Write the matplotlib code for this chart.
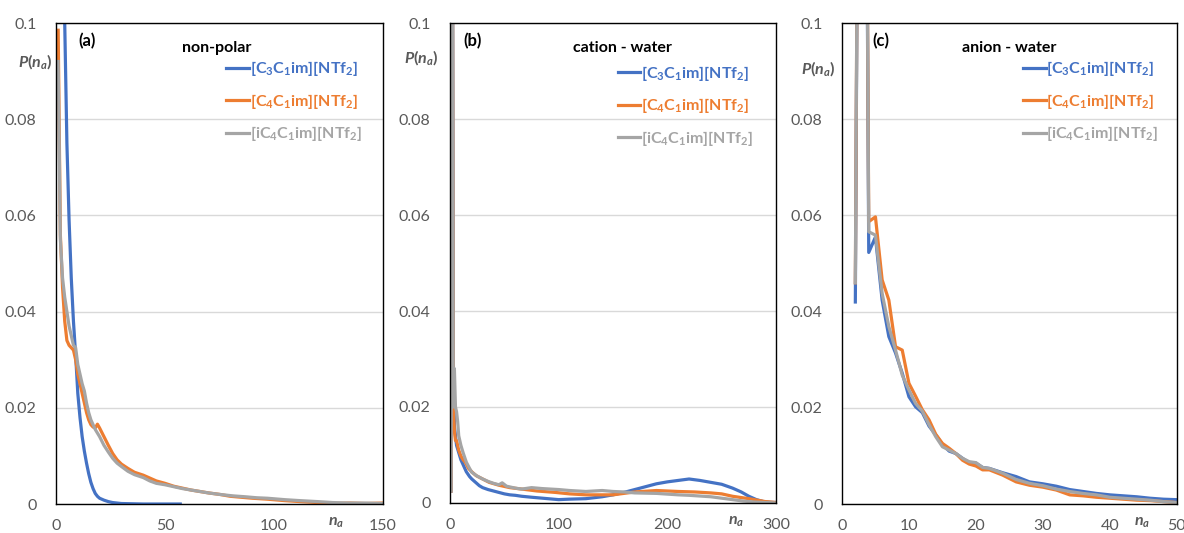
import numpy as np
import matplotlib
matplotlib.use("Agg")
import matplotlib.pyplot as plt

plt.rcParams['font.family'] = ['Lato', 'DejaVu Sans']
plt.rcParams['mathtext.fontset'] = 'custom'
plt.rcParams['mathtext.default'] = 'regular'
plt.rcParams['mathtext.it'] = 'Lato:italic:bold'

labels = ["[C$_3$C$_1$im][NTf$_2$]", "[C$_4$C$_1$im][NTf$_2$]", "[iC$_4$C$_1$im][NTf$_2$]"]
colors = ["#4472C4", "#ED7D31", "#A5A5A5"]

# (a) non-polar
a_blue_n = [1, 2, 3, 4, 5, 6, 7, 8, 9, 10, 11, 12, 13, 14, 15, 16, 17, 18, 19, 20,
            22, 24, 26, 28, 30, 35, 40, 45, 50, 57]
a_blue_p = [0.25, 0.19, 0.14, 0.10, 0.075, 0.059, 0.047, 0.038, 0.031, 0.023, 0.018,
            0.014, 0.011, 0.0085, 0.0063, 0.0045, 0.0032, 0.0022, 0.0016, 0.0012,
            0.0008, 0.0005, 0.0003, 0.0002, 0.0001, 0.00005, 0.0, 0.0, 0.0, 0.0]
a_orange_n = [1, 2, 3, 4, 5, 6, 7, 8, 9, 10, 11, 12, 13, 14, 15, 16, 17, 18, 19, 20,
              22, 24, 26, 28, 30, 33, 36, 40, 43, 46, 50, 54, 58, 62, 66, 70, 75, 80,
              85, 90, 97, 105, 112, 120, 127, 135, 142, 150]
a_orange_p = [0.0985, 0.056, 0.045, 0.038, 0.034, 0.033, 0.0325, 0.032, 0.030, 0.027,
              0.025, 0.023, 0.021, 0.019, 0.0175, 0.0165, 0.016, 0.0158, 0.0166, 0.0158,
              0.0140, 0.0122, 0.0105, 0.0092, 0.0083, 0.0074, 0.0066, 0.0060, 0.0054,
              0.0048, 0.0043, 0.0037, 0.0033, 0.0029, 0.0026, 0.0023, 0.0020, 0.0016,
              0.0014, 0.0012, 0.0010, 0.0007, 0.0005, 0.0003, 0.0001, 0.0002, 0.0001,
              0.0002]
a_gray_n = [1, 2, 3, 4, 5, 6, 7, 8, 9, 10, 11, 12, 13, 14, 15, 16, 17, 18, 20, 22, 24,
            26, 28, 30, 33, 36, 40, 43, 46, 50, 54, 58, 62, 66, 70, 75, 81, 87, 92, 97,
            105, 112, 120, 127, 135, 142, 150]
a_gray_p = [0.092, 0.055, 0.047, 0.043, 0.040, 0.037, 0.035, 0.033, 0.0325, 0.029,
            0.027, 0.025, 0.0235, 0.021, 0.019, 0.0175, 0.0165, 0.0155, 0.0140, 0.0122,
            0.0108, 0.0095, 0.0085, 0.0078, 0.0068, 0.0061, 0.0055, 0.0048, 0.0043,
            0.0040, 0.0036, 0.0032, 0.0029, 0.0026, 0.0023, 0.0020, 0.0017, 0.0015,
            0.0013, 0.0012, 0.0009, 0.0007, 0.0005, 0.0003, 0.0002, 0.0002, 0.0001]

# (b) cation - water
b_blue_n = [1, 2, 3, 4, 5, 6, 8, 10, 12, 15, 18, 20, 24, 27, 30, 35, 40, 45, 50, 55,
            60, 66, 75, 90, 100, 110, 125, 140, 150, 160, 170, 180, 190, 200, 210, 220,
            230, 240, 250, 260, 268, 275, 282, 290, 300]
b_blue_p = [0.0025, 0.15, 0.03, 0.016, 0.014, 0.012, 0.0105, 0.009, 0.008, 0.0065,
            0.0055, 0.005, 0.0042, 0.0036, 0.0032, 0.0028, 0.0025, 0.0022, 0.0019,
            0.0017, 0.0016, 0.0014, 0.0012, 0.0009, 0.0007, 0.0008, 0.0009, 0.0013,
            0.0017, 0.0022, 0.0028, 0.0034, 0.0040, 0.0044, 0.0047, 0.0050, 0.0047,
            0.0043, 0.0039, 0.0031, 0.0023, 0.0014, 0.0007, 0.0002, 0.0001]
b_orange_n = [1, 2, 3, 4, 5, 6, 8, 10, 12, 14, 17, 20, 24, 30, 36, 45, 55, 66, 80, 97,
              110, 125, 150, 170, 190, 210, 225, 240, 250, 260, 275, 285, 290, 300]
b_orange_p = [0.0025, 0.15, 0.02, 0.015, 0.013, 0.013, 0.011, 0.0098, 0.009, 0.0085,
              0.0072, 0.0065, 0.0057, 0.005, 0.0043, 0.0037, 0.0032, 0.0029, 0.0025,
              0.0022, 0.0019, 0.0017, 0.0017, 0.0023, 0.0026, 0.0024, 0.0023, 0.0021,
              0.0019, 0.0014, 0.0009, 0.0005, 0.0003, 0.0001]
b_gray_n = [1, 2, 3, 4, 5, 6, 7, 8, 10, 12, 15, 18, 20, 25, 30, 35, 40, 45, 48, 52, 60,
            66, 75, 85, 100, 110, 125, 140, 150, 160, 170, 190, 210, 220, 240, 260, 270,
            280, 290, 300]
b_gray_p = [0.0025, 0.15, 0.02, 0.028, 0.02, 0.019, 0.017, 0.014, 0.012, 0.0105,
            0.0085, 0.0072, 0.0064, 0.0056, 0.005, 0.0045, 0.0041, 0.0038, 0.0042,
            0.0035, 0.0031, 0.0029, 0.0032, 0.003, 0.0028, 0.0026, 0.0024, 0.0026,
            0.0024, 0.0023, 0.0021, 0.002, 0.0017, 0.0016, 0.0013, 0.0007, 0.0004,
            0.0002, 0.0001, 0.0]

# (c) anion - water
c_n = [2, 3, 4, 5, 6, 7, 8, 9, 10, 11, 12, 13, 14, 15, 16, 17, 18, 19, 20, 21, 22, 24,
       26, 28, 30, 32, 34, 36, 38, 40, 42, 44, 46, 48, 50]
c_blue_p = [0.042, 0.30, 0.0523, 0.0555, 0.0424, 0.0348, 0.0314, 0.0272, 0.0223, 0.0202,
            0.0190, 0.0162, 0.0144, 0.0124, 0.0110, 0.0105, 0.0095, 0.0086, 0.0085,
            0.0076, 0.0074, 0.0065, 0.0057, 0.0046, 0.0042, 0.0037, 0.0030, 0.0026,
            0.0022, 0.0019, 0.0017, 0.0015, 0.0012, 0.0010, 0.0009]
c_orange_p = [0.046, 0.30, 0.0587, 0.0597, 0.0466, 0.0424, 0.0327, 0.0320, 0.0251,
              0.0224, 0.0196, 0.0175, 0.0145, 0.0126, 0.0116, 0.0105, 0.0091, 0.0083,
              0.0079, 0.0071, 0.0071, 0.0060, 0.0046, 0.0039, 0.0035, 0.0029, 0.0019,
              0.0017, 0.0014, 0.0012, 0.0010, 0.0008, 0.0007, 0.0005, 0.0003]
c_gray_p = [0.046, 0.30, 0.0566, 0.0559, 0.0438, 0.0369, 0.0320, 0.0268, 0.0237, 0.0209,
            0.0193, 0.0165, 0.0140, 0.0119, 0.0112, 0.0105, 0.0095, 0.0088, 0.0086,
            0.0076, 0.0074, 0.0064, 0.0051, 0.0043, 0.0038, 0.0031, 0.0026, 0.0022,
            0.0019, 0.0014, 0.0012, 0.0010, 0.0008, 0.0005, 0.0003]

panels = [
    dict(tag="(a)", title="non-polar", xmax=150, xticks=[0, 50, 100, 150],
         series=[(a_blue_n, a_blue_p), (a_orange_n, a_orange_p), (a_gray_n, a_gray_p)],
         rect=[0.0473, 0.0544, 0.2762, 0.9024], title_x=0.49, tag_x=0.067,
         py=(-0.064, 0.919), nx=0.856, leg=(0.935, 0.925)),
    dict(tag="(b)", title="cation - water", xmax=300, xticks=[0, 100, 200, 300],
         series=[(b_blue_n, b_blue_p), (b_orange_n, b_orange_p), (b_gray_n, b_gray_p)],
         rect=[0.3801, 0.0563, 0.2753, 0.9005], title_x=0.53, tag_x=0.04,
         py=(-0.089, 0.927), nx=0.877, leg=(0.93, 0.915)),
    dict(tag="(c)", title="anion - water", xmax=50, xticks=[0, 10, 20, 30, 40, 50],
         series=[(c_n, c_blue_p), (c_n, c_orange_p), (c_n, c_gray_p)],
         rect=[0.7111, 0.0544, 0.2829, 0.9024], title_x=0.50, tag_x=0.09,
         py=(-0.072, 0.906), nx=0.895, leg=(0.945, 0.925)),
]

fig = plt.figure(figsize=(11.84, 5.33), dpi=100)

for p in panels:
    ax = fig.add_axes(p["rect"])
    for (n, prob), col, lab in zip(p["series"], colors, labels):
        ax.plot(n, prob, color=col, lw=2.3, label=lab, solid_joinstyle='round')
    ax.set_xlim(0, p["xmax"])
    ax.set_ylim(0, 0.1)
    ax.set_yticks([0, 0.02, 0.04, 0.06, 0.08, 0.1])
    ax.set_yticklabels(["0", "0.02", "0.04", "0.06", "0.08", "0.1"])
    ax.set_xticks(p["xticks"])
    ax.tick_params(length=0, labelsize=11.5, labelcolor="#595959", pad=14)
    ax.tick_params(axis='x', pad=11)
    ax.yaxis.grid(True, color="#D9D9D9", lw=1)
    ax.set_axisbelow(True)
    for s in ax.spines.values():
        s.set_color("black")
        s.set_linewidth(1)
    ax.text(p["tag_x"], 0.962, p["tag"], transform=ax.transAxes, fontsize=12,
            fontweight="bold", ha="left", va="center")
    ax.text(p["title_x"], 0.948, p["title"], transform=ax.transAxes, fontsize=11.5,
            fontweight="bold", ha="center", va="center")
    ax.text(p["py"][0], p["py"][1], r"$\mathit{P}$($\mathit{n_a}$)", transform=ax.transAxes,
            fontsize=11.5, fontweight="bold", color="#595959", ha="center", va="center")
    ax.text(p["nx"], -0.04, r"$\mathit{n_a}$", transform=ax.transAxes,
            fontsize=11.5, fontweight="bold", color="#595959", ha="center", va="center")
    leg = ax.legend(loc="upper right", bbox_to_anchor=p["leg"], frameon=False,
                    prop=dict(size=11.5, weight="bold"), labelcolor="linecolor",
                    handlelength=1.4, handletextpad=0.05, labelspacing=0.85,
                    borderpad=0, borderaxespad=0)

fig.savefig("out.png", dpi=100)
